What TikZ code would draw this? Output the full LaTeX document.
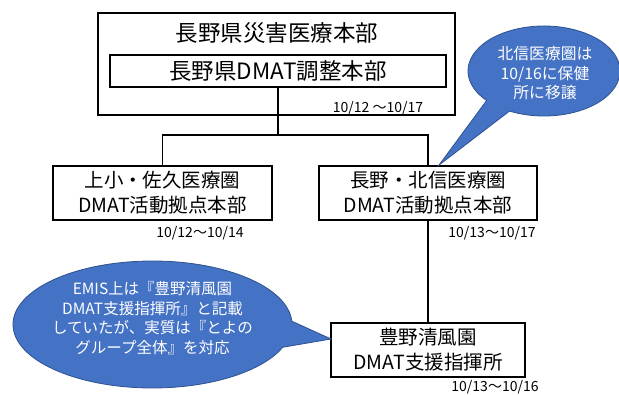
\documentclass[tikz,border=0pt]{standalone}
\usepackage{fontspec}
\setmainfont{Noto Sans CJK JP}
\usetikzlibrary{calc}
\definecolor{callfill}{HTML}{4472C4}
\definecolor{calledge}{HTML}{2F528F}
\tikzset{
  box/.style={draw=black, line width=1.8pt, inner sep=0pt, align=center, font=\fontsize{19.5}{25}\selectfont},
  conn/.style={draw=black, line width=1.6pt},
  datelbl/.style={inner sep=0pt, font=\fontsize{14}{16}\selectfont},
  bubble/.style={fill=callfill, draw=calledge, line width=0.8pt},
  bubbletext/.style={text=white, align=center, inner sep=0pt}
}
\begin{document}
\begin{tikzpicture}[x=1pt,y=-1pt]
\useasboundingbox (0,0) rectangle (619,395);
% top boxes
\node[draw=black, line width=1.8pt, minimum width=357pt, minimum height=102pt, inner sep=0pt] (outer) at (276.5,64) {};
\node[inner sep=0pt, font=\fontsize{22.5}{26}\selectfont] (title) at (277,33) {長野県災害医療本部};
\node[draw=black, line width=1.8pt, minimum width=336pt, minimum height=32pt, inner sep=0pt, font=\fontsize{22.5}{26}\selectfont] (inner) at (278,71) {長野県DMAT調整本部};
\node[datelbl] (d1) at (378,108) {10/12 ～10/17};
% second row
\node[box, minimum width=219pt, minimum height=54pt] (left) at (162.5,193) {上小・佐久医療圏\\DMAT活動拠点本部};
\node[box, minimum width=218pt, minimum height=54pt] (right) at (428,193) {長野・北信医療圏\\DMAT活動拠点本部};
\node[datelbl] (d2) at (200,233) {10/12～10/14};
\node[datelbl] (d3) at (492,233) {10/13～10/17};
% bottom box
\node[box, minimum width=194pt, minimum height=54pt] (bottom) at (428,350) {豊野清風園\\DMAT支援指揮所};
\node[datelbl] (d4) at (495,387.5) {10/13～10/16};
% connectors
\coordinate (j) at (278,135);
\draw[conn] (inner.south) -- (j);
\draw[conn] (left.north) |- (j) -| (right.north);
\draw[conn] (right.south) -- (bottom.north);
% callout 1
\coordinate (c1c) at (544,71);
\coordinate (tip1) at ($(right.north)+(11,0)$);
\path[bubble] (c1c) ++(243:76pt and 45pt) arc[start angle=243, end angle=581, x radius=76pt, y radius=45pt] -- (tip1) -- cycle;
\node[bubbletext, font=\fontsize{15.8}{19.5}\selectfont] (c1text) at (545,73.5) {北信医療圏は\\10/16に保健\\所に移譲};
% callout 2
\coordinate (c2c) at (152.5,324.5);
\coordinate (tip2) at ($(bottom.west)+(1,-11)$);
\path[bubble] (c2c) ++(3:139.5pt and 63.5pt) arc[start angle=3, end angle=339, x radius=139.5pt, y radius=63.5pt] -- (tip2) -- cycle;
\node[bubbletext, font=\fontsize{15.5}{19.7}\selectfont] (c2text) at (152.5,318) {EMIS上は『豊野清風園\\DMAT支援指揮所』と記載\\していたが、実質は『とよの\\グループ全体』を対応};
\end{tikzpicture}
\end{document}
